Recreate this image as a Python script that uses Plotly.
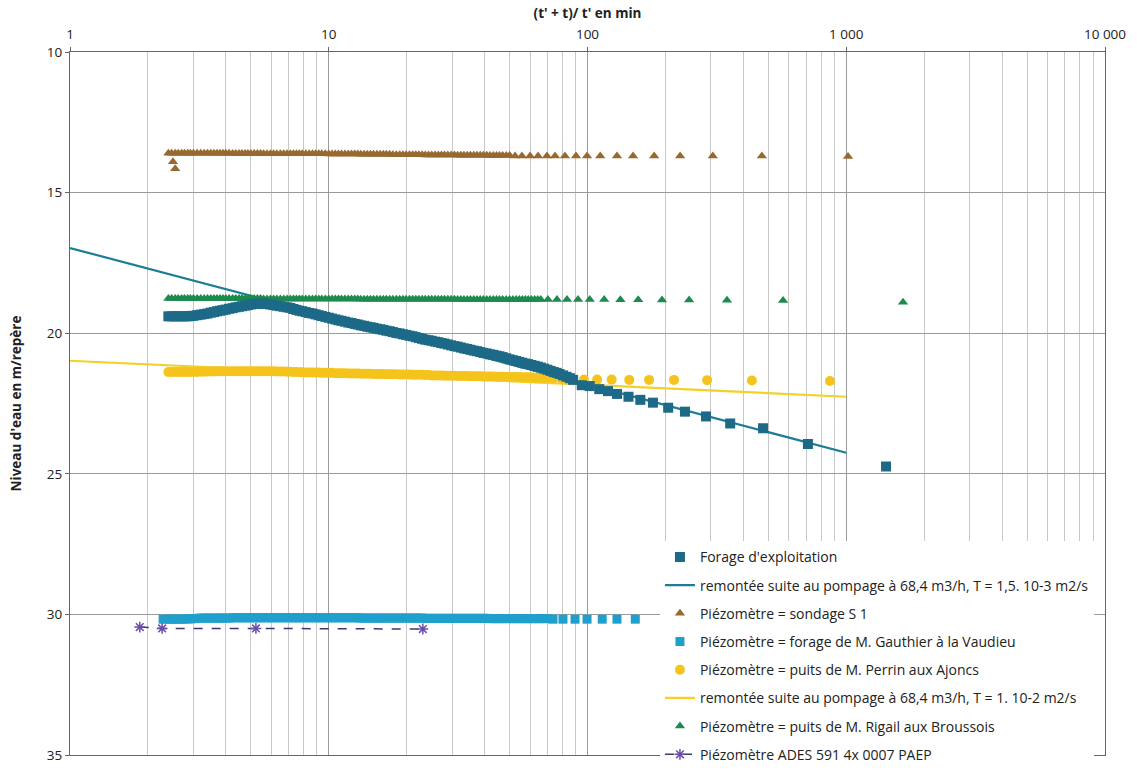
import plotly.graph_objects as go

# ---------------- data ----------------
# abscissa values (t'+t)/t' of the dense part of the recovery records
X_DENSE = [2.4, 2.47, 2.55, 2.62, 2.7, 2.77, 2.85, 2.92, 3.0, 3.1,
           3.2, 3.3, 3.4, 3.5, 3.6, 3.7, 3.8, 3.9, 4.0, 4.12,
           4.25, 4.37, 4.5, 4.62, 4.75, 4.87, 5.0, 5.15, 5.3, 5.45,
           5.6, 5.77, 5.95, 6.12, 6.3, 6.5, 6.7, 6.9, 7.1, 7.3,
           7.5, 7.7, 7.9, 8.15, 8.4, 8.65, 8.9, 9.15, 9.4, 9.7,
           10, 10.3, 10.6, 10.9, 11.2, 11.55, 11.9, 12.25, 12.6, 12.95,
           13.3, 13.7, 14.1, 14.5, 14.9, 15.35, 15.8, 16.25, 16.7, 17.2,
           17.7, 18.25, 18.8, 19.35, 19.9, 20.5, 21.1, 21.7, 22.3, 22.95,
           23.6, 24.3, 25, 25.75, 26.5, 27.25, 28, 28.85, 29.7, 30.6,
           31.5, 32.4, 33.3, 34.3, 35.3, 36.35, 37.4, 38.5, 39.6, 40.8,
           42, 43.25, 44.5, 45.7, 47, 48.5, 50, 51.5, 53, 54.5,
           56, 57.5, 59, 60.7, 62.5, 64.2, 66, 68, 70, 72,
           74, 76, 78, 80.5, 83, 85.5, 88]

# Forage d'exploitation
forage_x = X_DENSE + [95, 102, 111, 120, 130, 144, 160, 179, 205, 238, 287, 356, 477, 711, 1425]
forage_y = [19.40, 19.40, 19.40, 19.40, 19.40, 19.40, 19.40, 19.39, 19.38, 19.36,
            19.34, 19.32, 19.30, 19.27, 19.25, 19.22, 19.20, 19.18, 19.16, 19.13,
            19.11, 19.08, 19.06, 19.04, 19.02, 19.00, 18.98, 18.96, 18.95, 18.95,
            18.95, 18.96, 18.98, 19.00, 19.02, 19.04, 19.06, 19.08, 19.10, 19.14,
            19.17, 19.20, 19.22, 19.25, 19.28, 19.30, 19.33, 19.36, 19.39, 19.42,
            19.45, 19.48, 19.51, 19.54, 19.56, 19.59, 19.62, 19.64, 19.67, 19.69,
            19.72, 19.74, 19.77, 19.79, 19.81, 19.84, 19.86, 19.88, 19.91, 19.93,
            19.96, 19.99, 20.01, 20.04, 20.06, 20.09, 20.11, 20.14, 20.17, 20.20,
            20.23, 20.25, 20.27, 20.30, 20.32, 20.35, 20.37, 20.40, 20.43, 20.46,
            20.48, 20.51, 20.54, 20.56, 20.59, 20.62, 20.64, 20.67, 20.70, 20.72,
            20.75, 20.77, 20.80, 20.82, 20.85, 20.89, 20.93, 20.96, 20.99, 21.02,
            21.05, 21.08, 21.10, 21.13, 21.16, 21.19, 21.22, 21.26, 21.30, 21.34,
            21.38, 21.41, 21.45, 21.50, 21.55, 21.60, 21.66,
            21.85, 21.88, 21.99, 22.06, 22.16, 22.26, 22.37, 22.47, 22.65, 22.79,
            22.96, 23.21, 23.38, 23.94, 24.74]

# Droites de remontée (Cooper-Jacob)
line1_x = [1, 1000]
line1_y = [16.97, 24.25]
line2_x = [1, 1000]
line2_y = [20.98, 22.26]

# Piézomètre = sondage S 1
s1_x = [2.5, 2.55] + X_DENSE[:107] + [52.5, 55.8, 60, 64.4, 69.7, 74.9, 81.8, 90.3, 99.6, 112,
                                       130, 150, 181, 228, 305, 472, 1016]
s1_y = [13.9, 14.15,
        13.60, 13.60, 13.60, 13.60, 13.60, 13.60, 13.60, 13.60, 13.60, 13.60,
        13.60, 13.60, 13.60, 13.60, 13.60, 13.60, 13.60, 13.60, 13.60, 13.60,
        13.61, 13.61, 13.61, 13.61, 13.61, 13.61, 13.61, 13.61, 13.61, 13.61,
        13.62, 13.62, 13.62, 13.62, 13.62, 13.62, 13.62, 13.62, 13.62, 13.62,
        13.62, 13.62, 13.62, 13.62, 13.62, 13.62, 13.62, 13.62, 13.62, 13.62,
        13.63, 13.63, 13.63, 13.63, 13.63, 13.63, 13.63, 13.63, 13.63, 13.63,
        13.64, 13.64, 13.64, 13.64, 13.64, 13.64, 13.64, 13.64, 13.64, 13.64,
        13.65, 13.65, 13.65, 13.65, 13.65, 13.65, 13.65, 13.65, 13.65, 13.65,
        13.66, 13.66, 13.66, 13.66, 13.66, 13.66, 13.66, 13.66, 13.66, 13.66,
        13.67, 13.67, 13.67, 13.67, 13.67, 13.67, 13.67, 13.67, 13.67, 13.67,
        13.68, 13.68, 13.68, 13.68, 13.68, 13.68, 13.68,
        13.70, 13.70, 13.70, 13.70, 13.70, 13.70, 13.70, 13.70, 13.70, 13.70,
        13.70, 13.70, 13.70, 13.70, 13.70, 13.70, 13.72]

# Piézomètre = forage de M. Gauthier à la Vaudieu
gauthier_x = [2.29] + X_DENSE[:119] + [73.6, 80.4, 89.5, 99.6, 114, 130, 153]
gauthier_y = [30.17,
              30.17, 30.17, 30.17, 30.17, 30.17, 30.16, 30.16, 30.16, 30.15, 30.14,
              30.13, 30.13, 30.13, 30.13, 30.13, 30.13, 30.13, 30.13, 30.13, 30.13,
              30.12, 30.12, 30.12, 30.12, 30.12, 30.12, 30.12, 30.12, 30.12, 30.12,
              30.12, 30.12, 30.12, 30.12, 30.12, 30.12, 30.12, 30.12, 30.12, 30.12,
              30.12, 30.12, 30.12, 30.12, 30.12, 30.12, 30.12, 30.12, 30.12, 30.12,
              30.12, 30.12, 30.12, 30.12, 30.12, 30.12, 30.12, 30.12, 30.12, 30.12,
              30.13, 30.13, 30.13, 30.13, 30.13, 30.13, 30.13, 30.13, 30.13, 30.13,
              30.13, 30.13, 30.13, 30.13, 30.13, 30.13, 30.13, 30.13, 30.13, 30.13,
              30.14, 30.14, 30.14, 30.14, 30.14, 30.14, 30.14, 30.14, 30.14, 30.14,
              30.14, 30.14, 30.14, 30.14, 30.14, 30.14, 30.14, 30.14, 30.14, 30.14,
              30.15, 30.15, 30.15, 30.15, 30.15, 30.15, 30.15, 30.15, 30.15, 30.15,
              30.15, 30.15, 30.15, 30.15, 30.15, 30.15, 30.15, 30.15, 30.15,
              30.17, 30.17, 30.17, 30.17, 30.17, 30.17, 30.17]

# Piézomètre = puits de M. Perrin aux Ajoncs
perrin_x = X_DENSE[:121] + [79.7, 87.9, 96.9, 109, 124, 145, 173, 216, 290, 432, 865]
perrin_y = [21.38, 21.38, 21.38, 21.38, 21.38, 21.38, 21.38, 21.38, 21.38, 21.38,
            21.37, 21.37, 21.36, 21.36, 21.36, 21.35, 21.35, 21.35, 21.35, 21.35,
            21.35, 21.35, 21.35, 21.35, 21.35, 21.35, 21.35, 21.35, 21.35, 21.35,
            21.35, 21.35, 21.35, 21.35, 21.36, 21.36, 21.36, 21.37, 21.37, 21.38,
            21.38, 21.39, 21.39, 21.40, 21.40, 21.40, 21.40, 21.40, 21.41, 21.41,
            21.41, 21.41, 21.42, 21.42, 21.42, 21.42, 21.43, 21.43, 21.43, 21.43,
            21.44, 21.44, 21.44, 21.44, 21.45, 21.45, 21.45, 21.45, 21.46, 21.46,
            21.46, 21.46, 21.47, 21.47, 21.47, 21.47, 21.48, 21.48, 21.48, 21.48,
            21.49, 21.49, 21.50, 21.50, 21.50, 21.50, 21.51, 21.51, 21.51, 21.51,
            21.52, 21.52, 21.52, 21.52, 21.53, 21.53, 21.53, 21.53, 21.54, 21.54,
            21.54, 21.54, 21.55, 21.55, 21.55, 21.55, 21.56, 21.56, 21.56, 21.56,
            21.57, 21.57, 21.57, 21.57, 21.58, 21.58, 21.58, 21.58, 21.59, 21.59,
            21.60,
            21.63, 21.64, 21.65, 21.65, 21.65, 21.66, 21.66, 21.66, 21.67, 21.68, 21.70]

# Piézomètre = puits de M. Rigail aux Broussois
rigail_x = X_DENSE[:117] + [70.3, 76.2, 83.3, 91.9, 102, 116, 134, 157, 194, 247, 346, 570, 1657]
rigail_y = [18.77, 18.77, 18.77, 18.77, 18.77, 18.77, 18.77, 18.77, 18.77, 18.77,
            18.77, 18.77, 18.77, 18.77, 18.77, 18.77, 18.77, 18.77, 18.77, 18.77,
            18.77, 18.77, 18.77, 18.77, 18.77, 18.77, 18.77, 18.77, 18.77, 18.77,
            18.78, 18.78, 18.78, 18.78, 18.78, 18.78, 18.78, 18.78, 18.78, 18.78,
            18.78, 18.78, 18.78, 18.78, 18.78, 18.78, 18.78, 18.78, 18.78, 18.78,
            18.78, 18.78, 18.78, 18.78, 18.78, 18.78, 18.78, 18.78, 18.78, 18.78,
            18.79, 18.79, 18.79, 18.79, 18.79, 18.79, 18.79, 18.79, 18.79, 18.79,
            18.79, 18.79, 18.79, 18.79, 18.79, 18.79, 18.79, 18.79, 18.79, 18.79,
            18.79, 18.79, 18.79, 18.79, 18.79, 18.79, 18.79, 18.79, 18.79, 18.79,
            18.80, 18.80, 18.80, 18.80, 18.80, 18.80, 18.80, 18.80, 18.80, 18.80,
            18.80, 18.80, 18.80, 18.80, 18.80, 18.80, 18.80, 18.80, 18.80, 18.80,
            18.80, 18.80, 18.80, 18.80, 18.80, 18.80, 18.80,
            18.80, 18.80, 18.80, 18.80, 18.80, 18.80, 18.81, 18.81, 18.82, 18.82,
            18.83, 18.84, 18.90]

# Piézomètre ADES
ades_x = [1.86, 2.27, 5.23, 23.1]
ades_y = [30.45, 30.5, 30.5, 30.52]

NAMES = ["Forage d'exploitation",
         "remontée suite au pompage à 68,4 m3/h, T = 1,5. 10-3 m2/s",
         "Piézomètre = sondage S 1",
         "Piézomètre = forage de M. Gauthier à la Vaudieu",
         "Piézomètre = puits de M. Perrin aux Ajoncs",
         "remontée suite au pompage à 68,4 m3/h, T = 1. 10-2 m2/s",
         "Piézomètre = puits de M. Rigail aux Broussois",
         "Piézomètre ADES 591 4x 0007 PAEP"]

X_TICKS = [1, 10, 100, 1000, 10000]
X_TICKTEXT = ["1", "10", "100", "1 000", "10 000"]
Y_TICKS = [10, 15, 20, 25, 30, 35]

# ---------------- figure ----------------
FONT = "Open Sans, Lato, sans-serif"
fig = go.Figure()

def add(x, y, name, rank, **kw):
    fig.add_trace(go.Scatter(x=x, y=y, name=name, legendrank=rank,
                             legendgroup=str(rank), **kw))

add(line1_x, line1_y, NAMES[1], 2, mode="lines", line=dict(color="#1b7d97", width=2.2))
add(line2_x, line2_y, NAMES[5], 6, mode="lines", line=dict(color="#f2d12a", width=2.2))
add(s1_x, s1_y, NAMES[2], 3, mode="markers",
    marker=dict(symbol="triangle-up", size=9, color="#98692f"))
add(gauthier_x, gauthier_y, NAMES[3], 4, mode="markers",
    marker=dict(symbol="square", size=9, color="#1fa0cc"))
add(perrin_x, perrin_y, NAMES[4], 5, mode="markers",
    marker=dict(symbol="circle", size=10, color="#f5c41c"))
add(rigail_x, rigail_y, NAMES[6], 7, mode="markers",
    marker=dict(symbol="triangle-up", size=9, color="#1d8a4e"))
add(forage_x, forage_y, NAMES[0], 1, mode="markers",
    marker=dict(symbol="square", size=10, color="#1c6a88"))
add(ades_x, ades_y, NAMES[7], 8, mode="lines+markers",
    line=dict(color="#3a3a72", width=1.5, dash="dash"),
    marker=dict(symbol="asterisk-open", size=9, color="#6a4fa8",
                line=dict(color="#6a4fa8", width=1.5)))

fig.update_layout(
    width=1137, height=778,
    margin=dict(l=70, r=32, t=52, b=8),
    paper_bgcolor="white", plot_bgcolor="white",
    font=dict(family=FONT, size=13, color="#222"),
    showlegend=True,
    legend=dict(x=0.570, y=0.304, xanchor="left", yanchor="top",
                bgcolor="white", borderwidth=0, tracegroupgap=7,
                font=dict(family=FONT, size=14, color="#222")),
)
fig.update_xaxes(
    type="log", range=[0, 4], side="top", automargin=False,
    tickvals=X_TICKS, ticktext=X_TICKTEXT, tickfont=dict(size=13.5, color="#222"),
    ticks="outside", ticklen=4, tickcolor="#666", ticklabelstandoff=3,
    showgrid=True, gridcolor="#9a9a9a", gridwidth=1,
    minor=dict(dtick="D1", showgrid=True, gridcolor="#c8c8c8", gridwidth=1, ticks=""),
    showline=True, linecolor="#666", linewidth=1.2, mirror=True,
    title=dict(text="<b>(t' + t)/ t' en min</b>", font=dict(size=13.5, color="#222"), standoff=2),
    zeroline=False,
)
fig.update_yaxes(
    range=[35, 10], tickvals=Y_TICKS, tickfont=dict(size=13.5, color="#222"), automargin=False,
    ticks="outside", ticklen=4, tickcolor="#666",
    showgrid=True, gridcolor="#9a9a9a", gridwidth=1,
    showline=True, linecolor="#666", linewidth=1.2, mirror=True,
    title=dict(text="<b>Niveau d'eau en m/repère</b>", font=dict(size=13.5, color="#222"), standoff=22),
    zeroline=False,
)

# remove the browser's default 8 px body margin so the figure sits at the window origin
fig.write_html("out.html", config={"displayModeBar": False},
               post_script="document.body.style.margin='0';document.body.style.overflow='hidden';")
